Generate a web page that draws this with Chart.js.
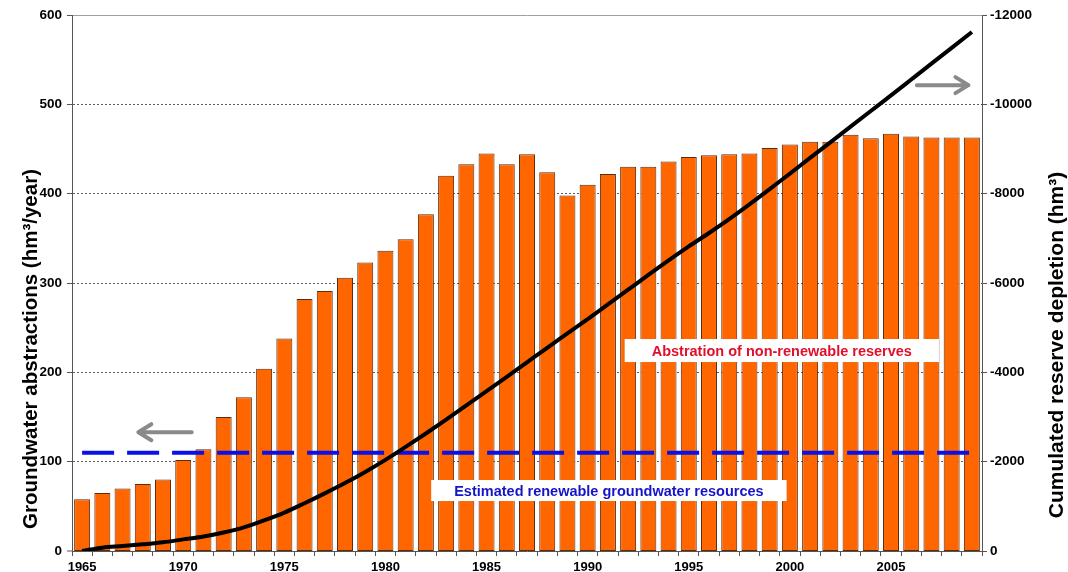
<!DOCTYPE html>
<html>
<head>
<meta charset="utf-8">
<title>Groundwater abstractions and cumulated reserve depletion</title>
<script src="https://cdn.jsdelivr.net/npm/chart.js@4.4.1/dist/chart.umd.min.js"></script>
<style>
  html, body { margin: 0; padding: 0; background: #fff; }
  #wrap { width: 1068px; height: 572px; }
</style>
</head>
<body>
<div id="wrap"><canvas id="chart" width="1068" height="572"></canvas></div>
<script>
// ================================================
//  Groundwater abstractions vs cumulated depletion
//  bars  -> left axis  (hm3/year)
//  line  -> right axis (hm3, reversed, negative)
// ================================================

const years = [
  1965, 1966, 1967, 1968, 1969, 1970, 1971, 1972, 1973, 1974,
  1975, 1976, 1977, 1978, 1979, 1980, 1981, 1982, 1983, 1984,
  1985, 1986, 1987, 1988, 1989, 1990, 1991, 1992, 1993, 1994,
  1995, 1996, 1997, 1998, 1999, 2000, 2001, 2002, 2003, 2004,
  2005, 2006, 2007, 2008, 2009,
];

// yearly groundwater abstractions (hm3/year)
const abstractions = [
   58,  65,  70,  75,  80, 102, 114, 150, 172, 204,
  238, 282, 291, 306, 323, 336, 349, 377, 420, 433,
  445, 433, 444, 424, 398, 410, 422, 430, 430, 436,
  441, 443, 444, 445, 451, 455, 458, 458, 466, 462,
  467, 464, 463, 463, 463,
];

// cumulated reserve depletion (hm3)
const depletion = [
      0,    -75,   -110,   -150,   -195,   -260,   -325,   -415,   -530,   -685,
   -860,  -1070,  -1290,  -1520,  -1770,  -2040,  -2330,  -2630,  -2940,  -3260,
  -3580,  -3900,  -4225,  -4550,  -4870,  -5190,  -5520,  -5850,  -6180,  -6505,
  -6820,  -7120,  -7430,  -7760,  -8100,  -8450,  -8800,  -9150,  -9500,  -9850,
 -10200, -10555, -10910, -11265, -11620,
];

// estimated renewable resources (hm3/year), flat over the period
const renewableLevel = 110;

const leftTicks  = [0, 100, 200, 300, 400, 500, 600];
const rightTicks = [0, -2000, -4000, -6000, -8000, -10000, -12000];

const FONT = 'Liberation Sans, Arial, sans-serif';

//  ANNOTATIONS (placed through the scales)

const notes = [
  { text: 'Abstration of non-renewable reserves',      color: '#e0102c', x: 34.6, y: 224.4, padX: 27, h: 23 },
  { text: 'Estimated renewable groundwater resources', color: '#1515c8', x: 26.05, y: 67.7, padX: 23, h: 21 },
];

const arrows = [
  { axis: 'y',  from: [5.42, 133],     to: [2.78, 133] },
  { axis: 'y2', from: [41.28, -10430], to: [43.83, -10430] },
];

const annotationPlugin = {
  id: 'annotations',
  afterDraw(chart) {
    const { ctx, scales, chartArea } = chart;
    const x = scales.x;

    // grey arrows
    ctx.save();
    ctx.strokeStyle = '#8a8a8a';
    ctx.lineWidth   = 4;
    ctx.lineCap     = 'round';
    ctx.lineJoin    = 'round';
    arrows.forEach(a => {
      const ys = scales[a.axis];
      const x1 = x.getPixelForValue(a.from[0]), y1 = ys.getPixelForValue(a.from[1]);
      const x2 = x.getPixelForValue(a.to[0]),   y2 = ys.getPixelForValue(a.to[1]);
      const dir = Math.sign(x2 - x1);
      ctx.beginPath();
      ctx.moveTo(x1, y1);
      ctx.lineTo(x2, y2);
      ctx.moveTo(x2 - dir * 13, y2 - 8);
      ctx.lineTo(x2, y2);
      ctx.lineTo(x2 - dir * 13, y2 + 8);
      ctx.stroke();
    });
    ctx.restore();

    // white label boxes
    ctx.save();
    ctx.font = `bold 14.5px ${FONT}`;
    ctx.textAlign = 'center';
    ctx.textBaseline = 'middle';
    notes.forEach(n => {
      const cx = x.getPixelForValue(n.x);
      const cy = scales.y.getPixelForValue(n.y);
      const w  = ctx.measureText(n.text).width + n.padX * 2;
      ctx.fillStyle = '#fff';
      ctx.fillRect(cx - w / 2, cy - n.h / 2, w, n.h);
      ctx.fillStyle = n.color;
      ctx.fillText(n.text, cx, cy + 1);
    });
    ctx.restore();

    // axis titles
    ctx.save();
    ctx.fillStyle = '#000';
    ctx.textAlign = 'center';
    ctx.textBaseline = 'middle';
    ctx.font = `bold 20.5px ${FONT}`;
    ctx.translate(31, chartArea.bottom - 202);
    ctx.rotate(-Math.PI / 2);
    ctx.fillText('Groundwater abstractions (hm³/year)', 0, 0);
    ctx.restore();

    ctx.save();
    ctx.fillStyle = '#000';
    ctx.textAlign = 'center';
    ctx.textBaseline = 'middle';
    ctx.font = `bold 21px ${FONT}`;
    ctx.translate(1057, chartArea.bottom - 206);
    ctx.rotate(-Math.PI / 2);
    ctx.fillText('Cumulated reserve depletion (hm³)', 0, 0);
    ctx.restore();
  },
};

//  CHART

document.addEventListener('DOMContentLoaded', () => {
  const canvas = document.getElementById('chart');

  new Chart(canvas, {
    type: 'bar',
    data: {
      labels: years.map(String),
      datasets: [
        {
          type:            'line',
          label:           'Cumulated reserve depletion',
          data:            depletion,
          yAxisID:         'y2',
          borderColor:     '#000',
          borderWidth:     4,
          pointRadius:     0,
          cubicInterpolationMode: 'monotone',
          fill:            false,
          order:           1,
        },
        {
          type:            'line',
          label:           'Estimated renewable groundwater resources',
          data:            new Array(years.length).fill(renewableLevel),
          yAxisID:         'y',
          borderColor:     '#0a10e6',
          borderWidth:     4,
          borderDash:      [32, 13],
          borderCapStyle:  'butt',
          pointRadius:     0,
          fill:            false,
          order:           2,
        },
        {
          type:               'bar',
          label:              'Groundwater abstractions',
          data:               abstractions,
          yAxisID:            'y',
          backgroundColor:    '#ff6600',
          borderColor:        '#5a2c10',
          borderWidth:        1,
          borderSkipped:      false,
          categoryPercentage: 1,
          barPercentage:      0.79,
          order:              3,
        },
      ],
    },
    options: {
      responsive:  false,
      animation:   false,
      devicePixelRatio: 1,
      layout: { padding: { top: 15, left: 0, right: 0, bottom: 0 } },
      plugins: {
        legend:  { display: false },
        tooltip: { enabled: false },
      },
      scales: {
        x: {
          offset: true,
          grid: {
            offset:          true,
            drawOnChartArea: false,
            drawTicks:       true,
            tickLength:      5,
            tickColor:       '#555',
          },
          border: { display: true, color: '#555', width: 1 },
          ticks: {
            autoSkip:    false,
            maxRotation: 0,
            padding:     4,
            color:       '#000',
            font:        { family: FONT, size: 13, weight: 'bold' },
            callback:    (v, i) => (years[i] % 5 === 0 ? String(years[i]) : ''),
          },
          afterFit: s => { s.height = 21; },
        },
        y: {
          position: 'left',
          min: 0,
          max: 600,
          afterBuildTicks: s => { s.ticks = leftTicks.map(v => ({ value: v })); },
          grid: {
            color:      c => (c.tick && c.tick.value === 600 ? '#888' : '#333'),
            lineWidth:  c => (c.tick && c.tick.value === 0 ? 0 : 0.8),
            tickLength: 5,
            tickColor:  '#555',
            tickWidth:  1,
          },
          border: {
            display: true,
            color:   '#555',
            width:   1,
            dash:    c => (c.tick && c.tick.value === 600 ? [] : [2, 2]),
          },
          ticks: {
            padding: 5,
            color:   '#000',
            font:    { family: FONT, size: 13.5, weight: 'bold' },
            callback: v => String(v),
          },
          afterFit: s => { s.width = 72; },
        },
        y2: {
          position: 'right',
          min: -12000,
          max: 0,
          reverse: true,
          afterBuildTicks: s => { s.ticks = rightTicks.map(v => ({ value: v })); },
          grid: {
            drawOnChartArea: false,
            tickLength:      5,
            tickColor:       '#555',
          },
          border: { display: true, color: '#555', width: 1 },
          ticks: {
            padding: 3,
            color:   '#000',
            font:    { family: FONT, size: 13.5, weight: 'bold' },
            callback: v => String(v),
          },
          afterFit: s => { s.width = 86; },
        },
      },
    },
    plugins: [annotationPlugin],
  });
});
</script>
</body>
</html>
